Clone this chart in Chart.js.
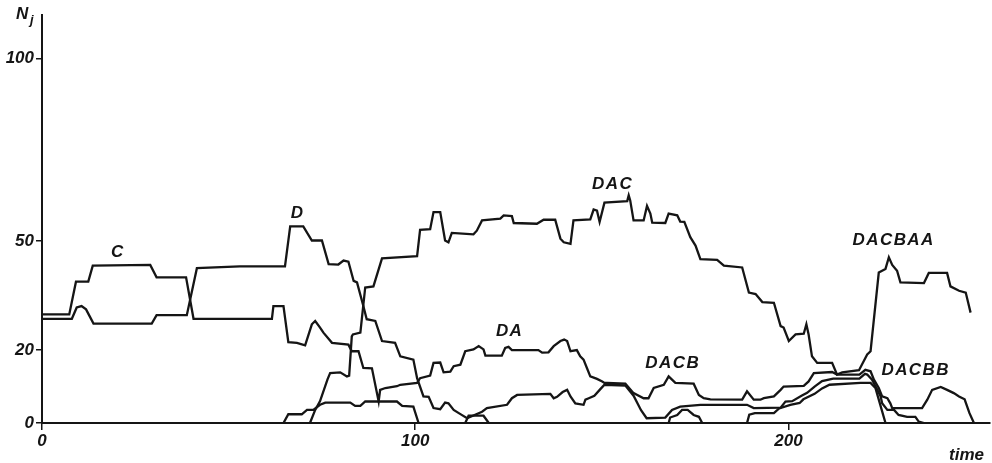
<!DOCTYPE html>
<html>
<head>
<meta charset="utf-8">
<script src="https://cdn.jsdelivr.net/npm/chart.js@4"></script>
<style>
  html, body { margin: 0; padding: 0; background: #fff; }
  #wrap { width: 992px; height: 463px; position: relative; }
</style>
</head>
<body>
<div id="wrap"><canvas id="chart"></canvas></div>
<script>
// tick values
const xTicks = [0, 100, 200];
const yTicks = [0, 20, 50, 100];

// each curve as [time, Nj] pairs
const lineC = [
  [0, 29.8], [7.3, 29.8], [9.1, 38.8], [12.4, 38.8], [13.6, 43.2], [29, 43.4], [30.7, 40], [38.6, 40],
  [40.6, 28.6], [61.6, 28.6], [62, 32.1], [64.7, 32.1], [66, 22.2], [68.3, 22], [70.5, 21.3], [72.3, 27.1],
  [73.2, 28], [74.5, 26.2], [75.4, 24.8], [77.7, 22], [82.1, 21.5], [83, 19.7], [84.8, 19.7], [86.1, 15.1],
  [88.4, 15], [90.2, 5.9], [90.6, 9.1], [92, 9.6], [95.1, 10.1], [96, 10.5], [100.5, 11], [101.3, 12.3],
  [104, 13], [104.9, 16.5], [106.7, 16.6], [107.6, 13.9], [109.4, 14.1], [110.3, 15.6], [112.1, 16],
  [113.4, 19.7], [115.6, 20.2], [117, 21.1], [118.3, 20.2], [118.8, 18.5], [123.2, 18.5], [124.1, 20.6],
  [125, 20.9], [125.9, 20], [133, 20], [134, 19.3], [135.7, 19.4], [137.1, 21.1], [138.9, 22.5],
  [139.9, 22.9], [140.7, 22.5], [141.6, 19.7], [143.3, 20], [144.2, 18.3], [145.1, 17.4], [146, 15.1],
  [146.9, 12.8], [148.7, 12.1], [150.1, 11.4], [150.7, 11], [151.4, 11], [156.3, 10.8], [158.5, 8.2],
  [161.2, 6.8], [162.5, 6.8], [163.9, 9.6], [166.6, 10.5], [167.9, 12.8], [168.8, 11.9], [169.7, 11],
  [174.6, 10.8], [176, 7.7], [177.3, 6.8], [179.1, 6.5], [187.6, 6.4], [188.9, 8.7], [190.7, 6.4],
  [192.5, 6.4], [193.4, 6.8], [196.1, 7.3], [197.9, 9.1], [198.7, 10], [204.1, 10.2], [205.4, 11.4],
  [206.8, 13.7], [211.7, 14], [213, 13.3], [219, 13.3], [220.6, 14.6], [222, 14.2], [222.9, 11.9],
  [224.2, 9.6], [225.1, 7.3], [226.5, 6.8], [227.3, 5.4], [227.8, 4.1], [235.8, 4.1], [237.2, 6.4],
  [238.5, 9.1], [240.8, 9.9], [242.5, 9.1], [244.3, 8.2], [245.7, 7.3], [247.2, 6.5], [248.5, 2.7], [249.7, 0]
];

const lineD = [
  [0, 28.6], [8, 28.6], [9.3, 31.7], [10.6, 32.1], [11.8, 31.2], [13.8, 27.3], [29.4, 27.3], [30.7, 29.6],
  [38.8, 29.6], [41.5, 42.5], [53, 43], [65.1, 43], [66.5, 54], [70, 54], [72.3, 50.1], [75, 50.1],
  [76.8, 43.6], [79.4, 43.5], [80.8, 44.6], [82.1, 44.3], [83.5, 39], [84.4, 38.6], [86.1, 32.1], [87, 28.5],
  [89.3, 28], [91.1, 22.5], [94.6, 22], [96, 18.3], [99.5, 17.4], [100.5, 12.3], [102.2, 7.3], [103.6, 7.2],
  [104.9, 4.1], [106.7, 3.8], [108, 5.6], [108.9, 5.4], [110.3, 3.6], [112, 2.5], [113.9, 1.3], [117.9, 3.1],
  [119.2, 4.1], [124.6, 5], [125.9, 6.8], [127.3, 7.7], [136.2, 8], [137.1, 6.8], [138, 7.2], [139.5, 8.5],
  [140.7, 9.1], [141.6, 7.3], [142.9, 5.4], [145.1, 5], [145.6, 6.4], [146.5, 6.8], [148, 7.5], [149.6, 9.3],
  [150.7, 10.5], [156.3, 10.3], [158.5, 7.5], [160.5, 3.5], [162, 1.3], [167, 1.5], [168.8, 3.6], [171, 4.5],
  [176.4, 5], [188.9, 5], [190.7, 4.1], [197.9, 4.2], [199.2, 5.9], [201, 6], [203.5, 7.5], [205, 8.3],
  [207, 10], [209, 11.5], [212, 12.2], [219, 12.2], [220.5, 13.5], [221.1, 13.3], [222.4, 11.9], [223.8, 9.1],
  [224.7, 7.3], [225.1, 5.4], [226.5, 3.6], [228.3, 3.6], [229.5, 2.2], [231.8, 1.7], [234, 1.7],
  [234.9, 0.4], [236.3, 0]
];

const lineDAC = [
  [71.8, 0], [73.2, 3.6], [74.5, 6], [76.5, 12], [77.2, 13.7], [79.9, 13.9], [81.7, 12.8], [82.3, 13],
  [83, 23.8], [83.3, 24.3], [85.3, 24.8], [86.6, 37.2], [88.8, 37.5], [91.1, 45.2], [100.5, 45.8],
  [101.3, 53], [104, 53.2], [104.9, 57.9], [106.7, 57.9], [108, 50.1], [108.9, 49.6], [109.8, 52.2],
  [115.6, 51.8], [116.5, 52.8], [117.9, 55.6], [122.8, 56.1], [123.7, 57], [125.9, 56.8], [126.4, 54.9],
  [132.6, 54.7], [134.4, 55.8], [137.5, 55.8], [138.9, 50.6], [139.8, 49.6], [141.6, 49.2], [142.4, 55.6],
  [146.9, 55.9], [147.8, 58.6], [148.7, 58.3], [149.4, 55.2], [150.7, 60.5], [156.8, 60.9], [157.2, 62.5],
  [157.6, 61.1], [158.5, 55.6], [161.2, 55.6], [162.1, 59.6], [163, 57.5], [163.5, 55], [167, 54.9],
  [167.9, 57.5], [170.2, 57], [171, 55.3], [172.1, 55.2], [173.7, 51], [175.1, 48.7], [176.4, 45],
  [180.9, 44.8], [182.7, 43.2], [187.6, 42.7], [189.4, 35.8], [191.2, 35.4], [193, 33.2], [196.1, 33],
  [197.9, 26.6], [198.7, 26.2], [200.1, 22.5], [201.9, 24.3], [204.1, 24.5], [204.8, 27.1], [205.4, 24.3],
  [206.3, 18.3], [207.7, 16.5], [211.7, 16.5], [213, 13.3], [214.4, 13.9], [218.9, 14.5], [221.1, 18.8],
  [222, 19.7], [224.2, 41.3], [226, 42.3], [226.9, 45.5], [227.8, 43.4], [229.1, 41.8], [230, 38.6],
  [236.3, 38.4], [237.6, 41.2], [242.5, 41.2], [243.4, 37.5], [245.7, 36.3], [247.5, 35.8], [248.8, 30.3]
];

const lineE = [
  [64.7, 0], [66, 2.4], [69.6, 2.4], [71, 3.6], [72.7, 3.6], [74.5, 5], [75.9, 5.6], [82.6, 5.6],
  [83.9, 4.7], [85.3, 4.7], [86.6, 5.9], [95.1, 5.9], [96.5, 4.7], [99.5, 4.5], [100.9, 0]
];

const humpS = [[113.4, 0], [114.3, 2], [118.3, 2], [119.7, 0]];

const humpH = [
  [167.9, 0], [168.3, 1.5], [170.2, 2.2], [171.5, 3.6], [173, 3.6], [174.6, 2.2], [176, 1.7], [176.9, 0]
];

const lineN = [
  [188.9, 0], [189.5, 2.3], [191, 2.7], [196.1, 2.7], [197.5, 4], [200.5, 5], [203, 5.5], [204, 6.5],
  [207, 8], [209, 9.5], [211, 10.5], [219.3, 11], [222, 11], [223.3, 9.6], [224.2, 6.4], [226, 0]
];

// curve names and where they are written (time, Nj)
const curveNames = ["C", "D", "DAC", "DA", "DACB", "DACBAA", "DACBB"];
const nameTimes = [20.1, 68.3, 152.7, 125.1, 168.8, 228, 233.9];
const nameCounts = [46.9, 57.6, 65.6, 25.3, 16.5, 50.2, 14.5];

const ink = "#151515";
const font = "'Liberation Sans', 'DejaVu Sans', sans-serif";

const curves = [lineC, lineD, lineDAC, lineE, humpS, humpH, lineN];

const datasets = curves.map((pts) => ({
  data: pts.map(([t, n]) => ({ x: t, y: n })),
  borderColor: ink,
  borderWidth: 2.3,
  pointRadius: 0,
  tension: 0,
  fill: false
}));

const textPlugin = {
  id: "curveText",
  afterDraw(chart) {
    const { ctx, scales, chartArea } = chart;
    ctx.save();
    ctx.fillStyle = ink;
    ctx.textAlign = "center";
    ctx.textBaseline = "middle";
    ctx.font = `italic bold 17px ${font}`;
    curveNames.forEach((name, i) => {
      const x = scales.x.getPixelForValue(nameTimes[i]);
      const y = scales.y.getPixelForValue(nameCounts[i]);
      ctx.fillText(name.split("").join("\u200A"), x, y);
    });
    // axis names
    ctx.textAlign = "left";
    ctx.fillText("N", chartArea.left - 26, 14);
    ctx.font = `italic bold 13px ${font}`;
    ctx.fillText("j", chartArea.left - 12, 20);
    ctx.font = `italic bold 17px ${font}`;
    ctx.textAlign = "right";
    ctx.fillText("time", chartArea.right - 6, 455);
    ctx.restore();
  }
};

new Chart(document.getElementById("chart"), {
  type: "line",
  data: { datasets },
  plugins: [textPlugin],
  options: {
    responsive: true,
    maintainAspectRatio: false,
    animation: false,
    layout: { padding: { top: 15, right: 2, left: 0, bottom: 0 } },
    plugins: {
      legend: { display: false },
      tooltip: { enabled: false }
    },
    scales: {
      x: {
        type: "linear",
        min: 0,
        max: 254,
        afterBuildTicks: (scale) => { scale.ticks = xTicks.map((v) => ({ value: v })); },
        afterFit: (scale) => { scale.height = 40; },
        grid: { drawOnChartArea: false, drawTicks: true, tickLength: 7, color: ink, lineWidth: 1.5 },
        border: { display: true, color: ink, width: 2 },
        ticks: {
          color: ink,
          padding: 1,
          maxRotation: 0,
          font: { family: font, size: 17, style: "italic", weight: "bold" }
        }
      },
      y: {
        type: "linear",
        min: 0,
        max: 112,
        afterBuildTicks: (scale) => { scale.ticks = yTicks.map((v) => ({ value: v })); },
        afterFit: (scale) => { scale.width = 42; },
        grid: { drawOnChartArea: false, drawTicks: true, tickLength: 6, color: ink, lineWidth: 1.5 },
        border: { display: true, color: ink, width: 2 },
        ticks: {
          color: ink,
          padding: 2,
          font: { family: font, size: 17, style: "italic", weight: "bold" }
        }
      }
    }
  }
});
</script>
</body>
</html>
